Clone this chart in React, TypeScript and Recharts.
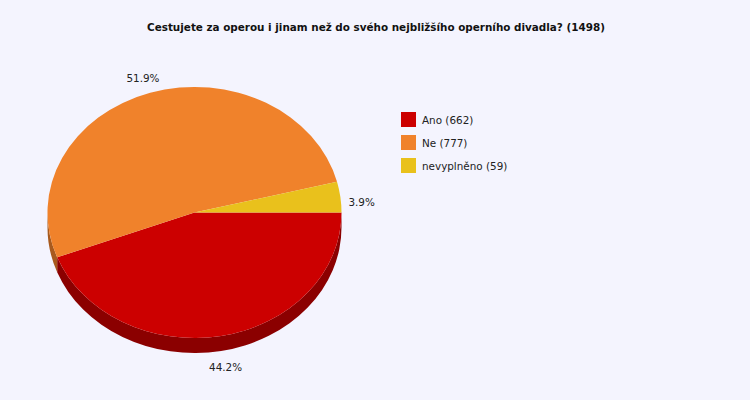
import React from "react";
import { PieChart, Pie, Cell, Legend } from "recharts";

// answers to the survey question, in drawing order (clockwise from 3 o'clock)
const categories = ["Ano", "Ne", "nevyplněno"];
const counts = [662, 777, 59];
const percentLabels = ["44.2%", "51.9%", "3.9%"];
const sliceColors = ["#cc0000", "#f0822b", "#e9c11c"];
const sideColors = ["#8b0000", "#a85a1e", "#a3870f"];

const total = counts.reduce((a, b) => a + b, 0);
const title = `Cestujete za operou i jinam než do svého nejbližšího operního divadla? (${total})`;

const data = categories.map((name, i) => ({ name, value: counts[i] }));

const RAD = Math.PI / 180;
const RATIO = 0.854; // vertical squash of the pie
const DEPTH = 15; // height of the 3d rim
const FONT = "'DejaVu Sans', Verdana, sans-serif";
const FS = 10.4;

// point on the ellipse for a screen angle (degrees, clockwise from 3 o'clock)
const pt = (cx: number, cy: number, rx: number, t: number, dy = 0) => [
  cx + rx * Math.cos(t * RAD),
  cy + rx * RATIO * Math.sin(t * RAD) + dy,
];

const EllipseSector = (props: any) => {
  const { cx, cy, outerRadius, startAngle, endAngle, fill, index } = props;
  const rx = outerRadius;
  const ry = rx * RATIO;
  const t1 = -startAngle;
  const t2 = -endAngle;
  const [x1, y1] = pt(cx, cy, rx, t1);
  const [x2, y2] = pt(cx, cy, rx, t2);
  const large = t2 - t1 > 180 ? 1 : 0;
  const top = `M${cx},${cy} L${x1},${y1} A${rx},${ry} 0 ${large} 1 ${x2},${y2} Z`;

  // the front rim: parts of the arc in the lower half of the ellipse
  const sides: string[] = [];
  [[0, 180], [360, 540]].forEach(([a, b]) => {
    const s = Math.max(a, t1);
    const e = Math.min(b, t2);
    if (e - s > 0.01) {
      const [sx, sy] = pt(cx, cy, rx, s);
      const [ex, ey] = pt(cx, cy, rx, e);
      sides.push(
        `M${sx},${sy} A${rx},${ry} 0 0 1 ${ex},${ey} L${ex},${ey + DEPTH} A${rx},${ry} 0 0 0 ${sx},${sy + DEPTH} Z`
      );
    }
  });

  return (
    <g>
      {sides.map((d, i) => (
        <path key={i} d={d} fill={sideColors[index]} stroke="none" />
      ))}
      <path d={top} fill={fill} stroke="none" />
    </g>
  );
};

const renderLabel = (p: any) => {
  const { cx, cy, midAngle, outerRadius, index } = p;
  const t = -midAngle * RAD;
  const c = Math.cos(t);
  const s = Math.sin(t);
  const ry = outerRadius * RATIO;
  let x: number;
  let y: number;
  let anchor: "start" | "end" | "middle" = "middle";
  if (c > 0.8) {
    x = cx + outerRadius * c + 8;
    y = cy + ry * s + 5;
    anchor = "start";
  } else if (c < -0.8) {
    x = cx + outerRadius * c - 8;
    y = cy + ry * s + 5;
    anchor = "end";
  } else {
    x = cx + (outerRadius + 24) * c;
    y = cy + (ry + 16) * s + (s > 0 ? DEPTH : 0);
  }
  return (
    <text x={x} y={y} textAnchor={anchor} dominantBaseline="central" fontSize={FS} fontFamily={FONT} fill="#222">
      {percentLabels[index]}
    </text>
  );
};

const renderLegend = () => (
  <div style={{ fontFamily: FONT, fontSize: FS, color: "#222" }}>
    {categories.map((name, i) => (
      <div key={name} style={{ display: "flex", alignItems: "center", height: 15, marginBottom: 8 }}>
        <span style={{ width: 15, height: 15, background: sliceColors[i], display: "inline-block", marginRight: 6 }} />
        <span>{`${name} (${counts[i]})`}</span>
      </div>
    ))}
  </div>
);

const App = () => {
  return (
    <div style={{ position: "absolute", left: 0, top: 0, width: 750, height: 400, background: "#f4f4fe" }}>
      <div
        style={{
          position: "absolute",
          top: 21,
          left: 0,
          width: 752,
          textAlign: "center",
          fontFamily: FONT,
          fontSize: FS,
          fontWeight: "bold",
          color: "#111",
        }}
      >
        {title}
      </div>
      <PieChart
        width={750}
        height={400}
        margin={{ top: 0, right: 0, bottom: 0, left: 0 }}
        style={{ position: "absolute", left: 0, top: 0 }}
      >
        <Pie
          data={data}
          dataKey="value"
          nameKey="name"
          cx={194.5}
          cy={212.5}
          outerRadius={147}
          startAngle={0}
          endAngle={-360}
          stroke="none"
          shape={EllipseSector}
          activeShape={EllipseSector}
          label={renderLabel}
          labelLine={false}
          isAnimationActive={false}
        >
          {data.map((d, i) => (
            <Cell key={d.name} fill={sliceColors[i]} />
          ))}
        </Pie>
        <Legend
          content={renderLegend}
          wrapperStyle={{ position: "absolute", left: 401, top: 112, width: "auto", bottom: "auto" }}
        />
      </PieChart>
    </div>
  );
};

export default App;
